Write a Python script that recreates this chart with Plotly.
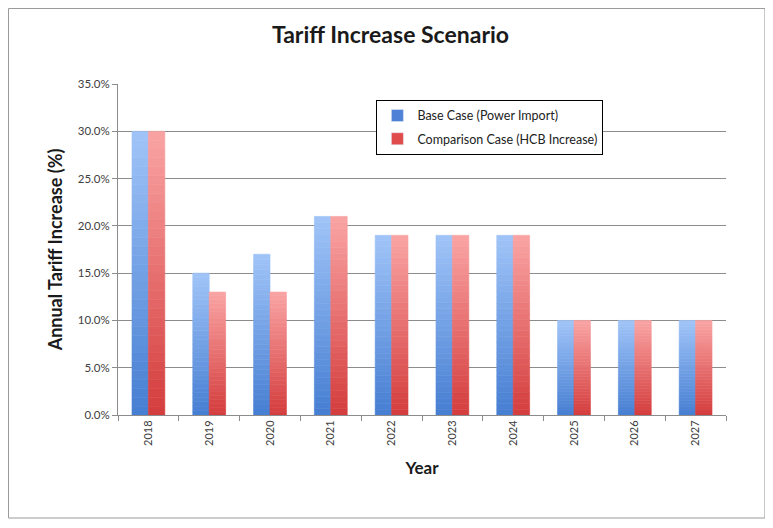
import plotly.graph_objects as go

years = ["2018", "2019", "2020", "2021", "2022", "2023", "2024", "2025", "2026", "2027"]
base_case = [30, 15, 17, 21, 19, 19, 19, 10, 10, 10]
comparison_case = [30, 13, 13, 21, 19, 19, 19, 10, 10, 10]
series_names = ["Base Case (Power Import)", "Comparison Case (HCB Increase)"]
y_ticks = [0, 5, 10, 15, 20, 25, 30, 35]
y_tick_labels = ["0.0%", "5.0%", "10.0%", "15.0%", "20.0%", "25.0%", "30.0%", "35.0%"]

FONT = "Lato"
N_SEG = 32


def lerp(c1, c2, t):
    return "rgb(%d,%d,%d)" % tuple(round(a + (b - a) * t) for a, b in zip(c1, c2))


fig = go.Figure()

series = [
    (base_case, series_names[0], (70, 126, 210), (160, 196, 248), "#4f81d6", "g1"),
    (comparison_case, series_names[1], (212, 60, 60), (250, 164, 164), "#e04b4b", "g2"),
]

for vals, name, dark, light, legend_col, grp in series:
    for i in range(N_SEG):
        t = (i + 0.5) / N_SEG
        col = lerp(dark, light, t)
        fig.add_trace(go.Bar(
            x=years,
            y=[v / N_SEG for v in vals],
            base=[v * i / N_SEG for v in vals],
            offsetgroup=grp,
            name=name,
            legendgroup=grp,
            showlegend=False,
            marker=dict(color=col, line=dict(width=0.6, color=col)),
            hoverinfo="skip",
        ))
    # legend entry
    fig.add_trace(go.Bar(
        x=[years[0]], y=[None], offsetgroup=grp, name=name, legendgroup=grp,
        marker=dict(color=legend_col), showlegend=True,
    ))

fig.update_layout(
    width=765, height=520,
    barmode="group",
    bargap=0.46, bargroupgap=0.0,
    paper_bgcolor="white", plot_bgcolor="white",
    margin=dict(l=110, r=47, t=76, b=113, autoexpand=False),
    font=dict(family=FONT, color="#404040"),
    title=dict(text="<b>Tariff Increase Scenario</b>", x=0.5, xanchor="center",
               y=0.948, yanchor="middle", font=dict(size=23, color="#1a1a1a", family=FONT)),
    showlegend=True,
    legend=dict(x=0.425, y=0.952, xanchor="left", yanchor="top",
                bordercolor="#000000", borderwidth=1, bgcolor="white",
                font=dict(size=12.5, color="#222222", family=FONT),
                tracegroupgap=4, itemwidth=30),
    xaxis=dict(
        type="category", categoryorder="array", categoryarray=years,
        tickangle=-90, tickfont=dict(size=11, color="#404040"),
        showline=True, linecolor="#8c8c8c", linewidth=1,
        ticks="outside", tickson="boundaries", ticklen=5, tickcolor="#8c8c8c",
        showgrid=False,
        title=dict(text="<b>Year</b>", font=dict(size=17, color="#1a1a1a"), standoff=17),
    ),
    yaxis=dict(
        range=[0, 35], tickvals=y_ticks, ticktext=y_tick_labels,
        tickfont=dict(size=11.5, color="#404040"),
        showline=True, linecolor="#8c8c8c", linewidth=1,
        ticks="outside", ticklen=5, tickcolor="#8c8c8c",
        showgrid=True, gridcolor="#8c8c8c", gridwidth=1,
        zeroline=False,
        title=dict(text="<b>Annual Tariff Increase (%)</b>", font=dict(size=18, color="#1a1a1a"), standoff=10),
    ),
    shapes=[dict(type="rect", xref="paper", yref="paper",
                 x0=-0.1801, x1=1.0641, y0=-0.3112, y1=1.2281,
                 line=dict(color="#9a9a9a", width=1), fillcolor="rgba(0,0,0,0)", layer="below")],
)

fig.write_html("out.html")
